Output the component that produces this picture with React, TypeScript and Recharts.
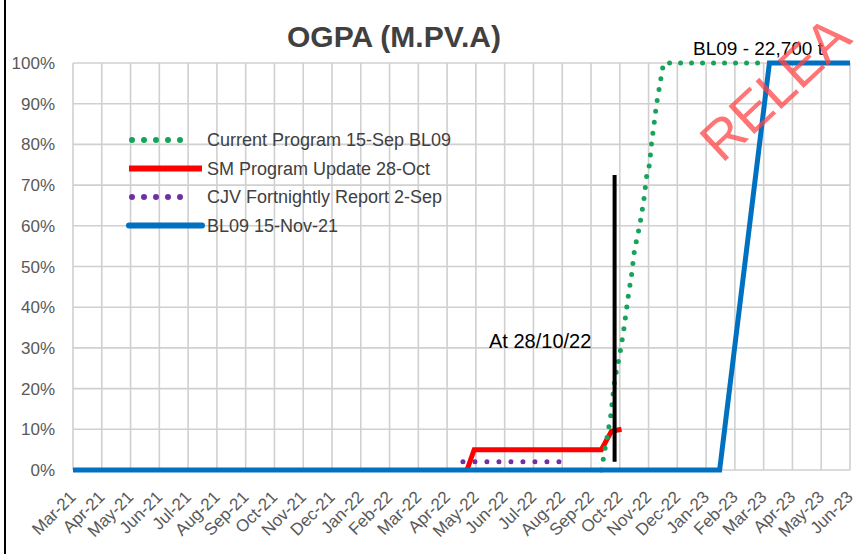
import { LineChart, Line, XAxis, YAxis, CartesianGrid } from "recharts";

// month index: 0 = Mar-21 ... 27 = Jun-23
const months = [
  "Mar-21", "Apr-21", "May-21", "Jun-21", "Jul-21", "Aug-21", "Sep-21",
  "Oct-21", "Nov-21", "Dec-21", "Jan-22", "Feb-22", "Mar-22", "Apr-22",
  "May-22", "Jun-22", "Jul-22", "Aug-22", "Sep-22", "Oct-22", "Nov-22",
  "Dec-22", "Jan-23", "Feb-23", "Mar-23", "Apr-23", "May-23", "Jun-23",
];
const yTicks = [0, 10, 20, 30, 40, 50, 60, 70, 80, 90, 100];

const baselineX = [0, 22.47, 24.2, 27];
const baselineY = [0, 0, 100, 100];

const currentX = [18.36, 18.68, 18.82, 18.99, 19.13, 19.3, 19.41, 19.51, 19.69, 19.83, 19.93, 20.03, 20.1, 20.28, 20.52, 24.1];
const currentY = [0, 13, 22, 28, 34, 43, 48, 54, 60, 66, 72, 75, 80, 90, 100, 100];

const smX = [13.69, 13.94, 18.36, 18.71, 19.06];
const smY = [0, 5, 5, 9.5, 10];

const cjvX = [13.55, 16.97];
const cjvY = [2, 2];

const markerX = [18.82, 18.82];
const markerY = [2, 72.5];

const toPoints = (xs: number[], ys: number[]) => xs.map((x, i) => ({ x, y: ys[i] }));

const GREEN = "#17a35a";
const RED = "#ff0000";
const PURPLE = "#7030a0";
const BLUE = "#0070c0";
const FONT = "'Liberation Sans', Arial, sans-serif";

const legendItems = [
  { name: "Current Program 15-Sep BL09", color: GREEN, dots: true },
  { name: "SM Program Update 28-Oct", color: RED, dots: false },
  { name: "CJV Fortnightly Report 2-Sep", color: PURPLE, dots: true },
  { name: "BL09 15-Nov-21", color: BLUE, dots: false },
];

function MonthTick(props: any) {
  const { x, y, payload } = props;
  const tx = x + 4;
  const ty = y + 20;
  return (
    <text
      x={tx}
      y={ty}
      textAnchor="end"
      transform={`rotate(-45 ${tx} ${ty})`}
      fontSize={17}
      fontFamily={FONT}
      fill="#595959"
    >
      {months[payload.value]}
    </text>
  );
}

// legend sits inside the plot area, drawn on the overlay
function ChartLegend({ left, top }: { left: number; top: number }) {
  return (
    <g transform={`translate(${left} ${top})`}>
      {legendItems.map((item, i) => {
        const cy = 14 + i * 28.5;
        return (
          <g key={item.name}>
            {item.dots ? (
              <line x1={15} x2={75} y1={cy} y2={cy} stroke={item.color} strokeWidth={6}
                strokeLinecap="round" strokeDasharray="0 12" />
            ) : (
              <line x1={12} x2={85} y1={cy} y2={cy} stroke={item.color} strokeWidth={6}
                strokeLinecap={item.color === BLUE ? "round" : "butt"} />
            )}
            <text x={90} y={cy + 6} fontSize={18} fontFamily={FONT} fill="#404040">
              {item.name}
            </text>
          </g>
        );
      })}
    </g>
  );
}

export default function App() {
  return (
    <div style={{ position: "relative", width: 861, height: 554, background: "#fff", overflow: "hidden" }}>
      <style>{`body{margin:0}`}</style>
      <LineChart width={861} height={554} margin={{ top: 63, right: 11, bottom: 24, left: 8 }}>
        <CartesianGrid stroke="#d0d0d0" strokeWidth={1.6} />
        <XAxis
          dataKey="x"
          type="number"
          domain={[0, 27]}
          ticks={months.map((_, i) => i)}
          interval={0}
          tick={<MonthTick />}
          tickLine={false}
          axisLine={false}
          height={60}
        />
        <YAxis
          type="number"
          domain={[0, 100]}
          ticks={yTicks}
          tickFormatter={(v) => `${v}%`}
          tickLine={false}
          axisLine={false}
          tickSize={0}
          tickMargin={18}
          width={65}
          tick={{ fontSize: 17, fontFamily: FONT, fill: "#595959" }}
        />
        <Line data={toPoints(cjvX, cjvY)} dataKey="y" stroke={PURPLE} strokeWidth={5}
          strokeLinecap="round" strokeDasharray="0 12" dot={false} activeDot={false}
          isAnimationActive={false} />
        <Line data={toPoints(smX, smY)} dataKey="y" stroke={RED} strokeWidth={5}
          dot={false} activeDot={false} isAnimationActive={false} />
        <Line data={toPoints(currentX, currentY)} dataKey="y" stroke={GREEN} strokeWidth={5}
          strokeLinecap="round" strokeDasharray="0 11" dot={false} activeDot={false}
          isAnimationActive={false} />
        <Line data={toPoints(baselineX, baselineY)} dataKey="y" stroke={BLUE} strokeWidth={5}
          dot={false} activeDot={false} isAnimationActive={false} />
        <Line data={toPoints(markerX, markerY)} dataKey="y" stroke="#000" strokeWidth={4}
          dot={false} activeDot={false} isAnimationActive={false} />
      </LineChart>
      <svg width={861} height={554} style={{ position: "absolute", left: 0, top: 0, pointerEvents: "none" }}>
        <rect x={4} y={0} width={2} height={554} fill="#000" />
        <ChartLegend left={117} top={126} />
        <text x={394} y={47} textAnchor="middle" fontSize={30} fontWeight="bold" fontFamily={FONT} fill="#404040">
          OGPA (M.PV.A)
        </text>
        <text x={693} y={55} fontSize={19} fontFamily={FONT} fill="#000">
          BL09 - 22,700 t
        </text>
        <text x={489} y={348} fontSize={20} fontFamily={FONT} fill="#000">
          At 28/10/22
        </text>
        <text x={722} y={164} fontSize={55} fontFamily={FONT} fill="rgba(255,70,70,0.75)"
          transform="rotate(-43 722 164)">
          RELEA
        </text>
      </svg>
    </div>
  );
}
